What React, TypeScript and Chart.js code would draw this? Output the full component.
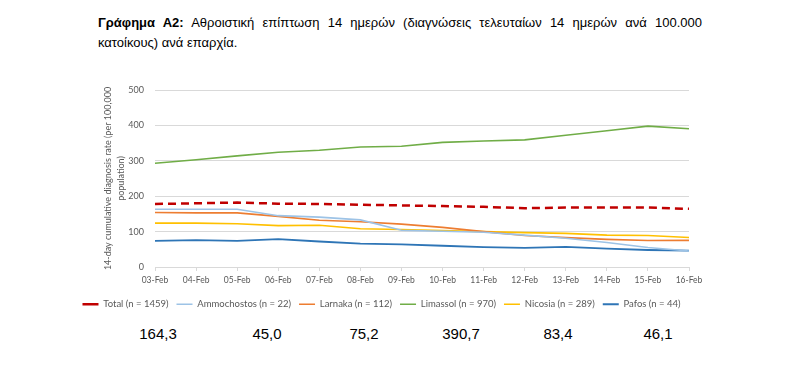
import React, { useEffect, useRef } from 'react';
import { Chart, registerables } from 'chart.js';

Chart.register(...registerables);

const dates = ['03-Feb', '04-Feb', '05-Feb', '06-Feb', '07-Feb', '08-Feb', '09-Feb', '10-Feb', '11-Feb', '12-Feb', '13-Feb', '14-Feb', '15-Feb', '16-Feb'];
const total = [178, 180, 182, 179, 178, 176, 174, 172, 170, 166, 168, 168, 168, 164.3];
const ammochostos = [163, 163, 163, 145, 141, 133, 104, 101, 98, 90, 81, 69, 55, 45.0];
const larnaka = [154, 153, 153, 143, 132, 128, 121, 112, 100, 89, 83, 78, 75, 75.2];
const limassol = [293, 303, 314, 324, 330, 339, 341, 352, 356, 359, 372, 385, 398, 390.7];
const nicosia = [124, 124, 122, 117, 118, 108, 106, 103, 100, 97, 95, 90, 89, 83.4];
const pafos = [74, 76, 74, 79, 72, 66, 64, 60, 56, 54, 57, 52, 48, 46.1];

const seriesLabels = ['Total (n = 1459)', 'Ammochostos (n = 22)', 'Larnaka (n = 112)', 'Limassol (n = 970)', 'Nicosia (n = 289)', 'Pafos (n = 44)'];
const latestValues = ['164,3', '45,0', '75,2', '390,7', '83,4', '46,1'];
const latestValueX = [158, 267, 364, 461, 558, 658];
const yAxisTitle = ['14-day cumulative diagnosis rate (per 100,000', 'population)'];
const titleBold = 'Γράφημα Α2:';
const titleLine1 = ' Αθροιστική επίπτωση 14 ημερών (διαγνώσεις τελευταίων 14 ημερών ανά 100.000';
const titleLine2 = 'κατοίκους) ανά επαρχία.';

const AXIS_FONT = 'Lato, "Liberation Sans", sans-serif';
const TEXT_COLOR = '#595959';
const BODY_FONT = '"Liberation Sans", Arial, sans-serif';

export default function App() {
  const canvasRef = useRef<HTMLCanvasElement | null>(null);

  useEffect(() => {
    const canvas = canvasRef.current;
    if (!canvas) return;
    const series = [total, ammochostos, larnaka, limassol, nicosia, pafos];
    const colors = ['#C00000', '#9DC3E6', '#ED7D31', '#70AD47', '#FFC000', '#2E75B6'];
    const widths = [2.5, 1.6, 1.6, 1.6, 1.6, 1.8];
    const chart = new Chart(canvas, {
      type: 'line',
      data: {
        labels: dates,
        datasets: series.map((d, i) => ({
          label: seriesLabels[i],
          data: d,
          borderColor: colors[i],
          backgroundColor: colors[i],
          borderWidth: widths[i],
          borderDash: i === 0 ? [8, 5] : [],
          pointRadius: 0,
          tension: 0,
          fill: false,
        })),
      },
      options: {
        animation: false,
        responsive: false,
        maintainAspectRatio: false,
        devicePixelRatio: 1,
        layout: { padding: { top: 20, right: 45, left: 0, bottom: 0 } },
        plugins: {
          tooltip: { enabled: false },
          legend: {
            position: 'bottom',
            labels: {
              usePointStyle: true,
              pointStyle: 'line',
              pointStyleWidth: 16,
              padding: 8,
              color: TEXT_COLOR,
              font: { family: AXIS_FONT, size: 9.5 },
            },
          },
        },
        scales: {
          x: {
            afterFit: (scale: any) => { scale.height = 24.5; },
            grid: { display: true, drawOnChartArea: false, drawTicks: true, tickLength: 4, color: '#d9d9d9' },
            border: { display: true, color: '#d9d9d9' },
            ticks: { color: TEXT_COLOR, font: { family: AXIS_FONT, size: 8.5 }, padding: 4, autoSkip: false, maxRotation: 0 },
          },
          y: {
            min: 0,
            max: 500,
            afterFit: (scale: any) => { scale.width = 81; },
            grid: { color: '#d9d9d9', drawTicks: false, lineWidth: 1 },
            border: { display: false },
            ticks: { stepSize: 100, color: TEXT_COLOR, font: { family: AXIS_FONT, size: 9 }, padding: 11 },
            title: {
              display: true,
              text: yAxisTitle,
              color: TEXT_COLOR,
              font: { family: AXIS_FONT, size: 9, lineHeight: 13 / 9 },
              padding: { top: 27.5, bottom: 0 },
            },
          },
        },
      },
    });
    return () => chart.destroy();
  }, []);

  return (
    <div style={{ position: 'fixed', left: 0, top: 0, width: 799, height: 371, background: '#fff', overflow: 'hidden' }}>
      <div style={{ position: 'absolute', left: 98, top: 13, width: 604, fontFamily: BODY_FONT, fontSize: 13, lineHeight: '20px', color: '#000' }}>
        <div style={{ textAlign: 'justify', textAlignLast: 'justify' } as any}>
          <b>{titleBold}</b>{titleLine1}
        </div>
        <div>{titleLine2}</div>
      </div>
      <canvas ref={canvasRef} width={660} height={249} style={{ position: 'absolute', left: 74, top: 70, width: 660, height: 249 }} />
      {latestValues.map((v, i) => (
        <div key={i} style={{ position: 'absolute', left: latestValueX[i], top: 324, transform: 'translateX(-50%)', fontFamily: BODY_FONT, fontWeight: 400, fontSize: 15, lineHeight: '20px', color: '#000', whiteSpace: 'nowrap' }}>
          {v}
        </div>
      ))}
    </div>
  );
}
